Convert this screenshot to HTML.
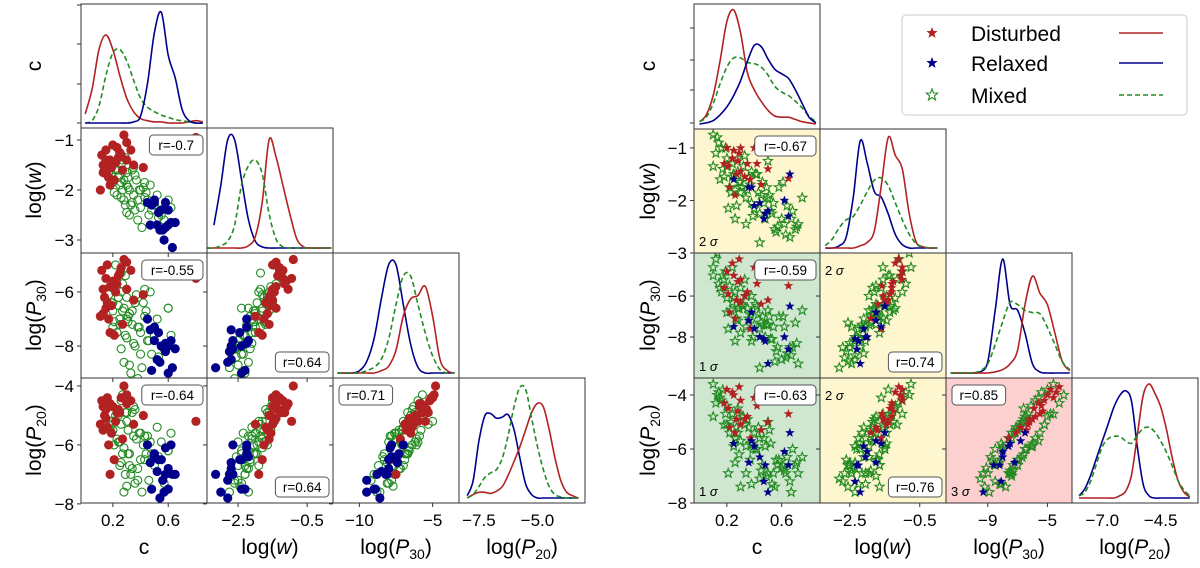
<!DOCTYPE html>
<html><head><meta charset="utf-8"><style>
html,body{margin:0;padding:0;background:#fff;}
svg{display:block;font-family:"Liberation Sans","DejaVu Sans",sans-serif;}
</style></head><body>
<svg id="fig" width="1200" height="568" viewBox="0 0 1200 568" xmlns="http://www.w3.org/2000/svg"></svg>
<script>
// ---------- DATA ----------
// variables order: c, log(w), log(P30), log(P20)
const leftDisturbed = [[0.12,-1.3,-5.2,-4.5],[0.15,-1.2,-5.5,-4.8],[0.18,-1.4,-5.8,-4.6],[0.14,-1.6,-6.2,-5.0],[0.16,-1.5,-5.0,-4.4],[0.2,-1.1,-5.6,-4.7],[0.22,-1.45,-6.0,-5.2],[0.13,-1.65,-6.8,-5.5],[0.25,-1.25,-5.3,-4.9],[0.28,-0.9,-4.8,-4.0],[0.19,-1.55,-6.5,-5.6],[0.17,-1.75,-7.0,-6.0],[0.11,-2.0,-6.9,-5.3],[0.3,-1.05,-5.9,-4.6],[0.24,-1.35,-5.4,-4.8],[0.21,-1.8,-7.6,-6.5],[0.35,-1.5,-6.3,-5.3],[0.15,-1.4,-6.6,-5.1],[0.27,-1.6,-7.2,-5.8],[0.18,-1.9,-7.5,-7.0],[0.33,-1.2,-5.2,-4.5],[0.42,-1.55,-6.1,-5.0],[0.23,-1.15,-5.7,-4.9],[0.8,-0.95,-5.5,-5.2],[0.16,-1.7,-6.4,-5.4],[0.13,-1.5,-5.9,-4.7],[0.3,-1.4,-4.9,-4.3],[0.26,-1.3,-5.1,-4.4]];
const leftRelaxed = [[0.45,-2.25,-7.0,-6.0],[0.5,-2.25,-7.3,-6.3],[0.55,-2.4,-8.0,-6.5],[0.52,-2.7,-8.5,-6.9],[0.58,-2.75,-8.2,-7.0],[0.6,-2.7,-8.0,-6.8],[0.62,-2.65,-7.8,-6.0],[0.53,-2.45,-7.5,-6.5],[0.47,-2.7,-7.4,-6.6],[0.56,-2.8,-9.5,-7.2],[0.57,-3.0,-9.5,-7.6],[0.63,-3.15,-8.8,-7.0],[0.5,-2.2,-7.8,-6.4],[0.65,-2.65,-8.1,-7.0],[0.48,-2.3,-8.9,-7.5],[0.54,-2.8,-8.6,-7.8],[0.6,-2.4,-9.0,-7.5],[0.58,-2.25,-7.9,-6.1]];
const leftMixed = [[0.2,-1.5,-6.4,-5.3],[0.22,-1.6,-6.0,-5.0],[0.25,-1.7,-7.2,-5.9],[0.18,-1.55,-5.8,-5.5],[0.28,-1.8,-6.6,-6.1],[0.3,-1.9,-7.0,-5.2],[0.26,-1.5,-6.0,-4.5],[0.32,-2.0,-6.8,-6.3],[0.35,-2.1,-7.9,-5.7],[0.24,-1.75,-6.2,-5.9],[0.2,-1.85,-7.3,-5.5],[0.38,-2.2,-7.3,-6.8],[0.4,-2.0,-7.5,-5.6],[0.34,-1.6,-6.7,-4.9],[0.29,-2.3,-7.6,-7.0],[0.27,-1.4,-5.7,-4.3],[0.31,-1.95,-6.9,-6.3],[0.23,-2.1,-7.5,-5.8],[0.36,-2.4,-8.0,-7.3],[0.45,-2.2,-7.8,-5.7],[0.42,-1.95,-6.4,-6.0],[0.48,-2.4,-8.3,-6.3],[0.5,-2.3,-7.6,-6.7],[0.55,-2.5,-8.0,-5.9],[0.6,-2.4,-6.6,-6.2],[0.28,-2.2,-8.6,-7.6],[0.33,-2.3,-9.0,-7.0],[0.41,-2.75,-8.8,-7.6],[0.26,-2.15,-8.1,-6.6],[0.19,-1.7,-6.4,-5.2],[0.22,-1.45,-5.0,-5.2],[0.3,-1.65,-6.2,-4.9],[0.37,-1.8,-6.1,-5.8],[0.39,-2.0,-7.3,-5.6],[0.44,-2.05,-6.7,-6.3],[0.46,-2.5,-7.8,-7.2],[0.52,-2.1,-7.0,-5.4],[0.57,-2.6,-8.1,-7.3],[0.62,-2.35,-7.6,-5.6],[0.25,-1.9,-7.0,-6.7],[0.21,-2.05,-7.1,-6.0],[0.32,-2.5,-8.7,-6.7],[0.43,-1.85,-5.9,-5.7],[0.35,-1.55,-6.3,-4.7],[0.29,-1.35,-5.4,-4.9],[0.17,-1.65,-6.1,-6.0],[0.24,-1.6,-6.5,-5.0],[0.27,-2.0,-6.7,-6.3],[0.31,-1.75,-7.1,-5.5],[0.34,-2.25,-7.2,-6.8],[0.4,-2.35,-8.3,-6.5],[0.47,-1.9,-6.0,-5.9],[0.53,-2.55,-8.4,-6.4],[0.6,-2.2,-6.6,-6.2],[0.38,-2.6,-9.2,-7.2],[0.3,-2.45,-7.7,-7.4],[0.2,-1.8,-6.7,-5.2],[0.26,-1.85,-5.3,-5.3],[0.36,-1.7,-6.4,-4.8],[0.43,-2.15,-6.9,-6.5]];
const rightDisturbed = [[0.2,-1.0,-4.8,-3.8],[0.25,-1.05,-5.0,-4.0],[0.3,-1.0,-5.2,-4.2],[0.18,-1.3,-5.6,-4.3],[0.4,-1.0,-4.6,-4.1],[0.35,-1.3,-5.8,-4.8],[0.27,-1.5,-6.2,-4.9],[0.22,-1.75,-6.8,-5.2],[0.26,-1.9,-7.1,-5.4],[0.45,-1.7,-6.4,-5.3],[0.5,-1.4,-6.2,-5.0],[0.65,-1.58,-5.5,-4.7],[0.3,-1.45,-6.3,-5.1],[0.24,-1.2,-4.4,-3.9],[0.37,-1.6,-7.6,-5.6],[0.28,-1.25,-5.3,-4.6],[0.33,-1.55,-6.0,-4.9],[0.21,-1.35,-5.9,-4.5],[0.42,-1.3,-5.4,-4.4],[0.29,-1.1,-4.2,-3.7]];
const rightRelaxed = [[0.38,-1.75,-6.8,-5.7],[0.4,-2.1,-7.6,-5.9],[0.44,-2.05,-8.0,-6.3],[0.48,-2.25,-8.2,-6.6],[0.47,-2.35,-8.1,-7.2],[0.62,-2.0,-8.0,-6.1],[0.66,-1.5,-6.5,-5.4],[0.65,-2.3,-8.6,-6.6],[0.25,-1.6,-7.5,-5.8],[0.36,-1.75,-7.2,-6.5],[0.5,-2.2,-9.3,-7.6]];
const rightMixed = [[0.1,-0.75,-4.6,-3.6],[0.12,-1.1,-4.2,-4.3],[0.14,-0.9,-5.4,-3.9],[0.1,-1.35,-5.0,-4.8],[0.16,-1.0,-5.8,-4.2],[0.18,-1.55,-5.2,-5.1],[0.2,-1.2,-6.1,-4.4],[0.22,-1.75,-5.5,-5.4],[0.24,-1.3,-6.3,-4.7],[0.26,-1.8,-5.8,-5.6],[0.28,-1.2,-6.6,-4.5],[0.3,-1.85,-5.6,-5.7],[0.32,-1.35,-6.5,-4.8],[0.34,-1.95,-6.0,-5.9],[0.36,-1.55,-7.1,-5.2],[0.38,-1.45,-6.0,-5.8],[0.4,-2.15,-7.4,-5.4],[0.42,-1.5,-6.5,-6.0],[0.44,-2.25,-7.6,-5.6],[0.46,-1.65,-7.0,-6.6],[0.48,-2.35,-8.0,-5.9],[0.5,-1.95,-7.4,-6.9],[0.52,-2.2,-8.1,-5.8],[0.54,-2.05,-7.5,-6.9],[0.56,-2.6,-8.7,-6.4],[0.58,-1.75,-7.0,-6.4],[0.6,-2.35,-9.1,-6.7],[0.62,-2.45,-7.5,-6.8],[0.64,-2.1,-8.8,-6.3],[0.66,-2.7,-8.5,-7.2],[0.68,-2.2,-8.5,-6.0],[0.7,-2.55,-7.3,-6.6],[0.72,-2.45,-9.3,-6.9],[0.75,-1.95,-6.7,-6.3],[0.15,-1.6,-5.6,-4.1],[0.19,-1.0,-4.8,-4.7],[0.23,-1.85,-6.7,-5.0],[0.25,-1.5,-6.1,-5.9],[0.27,-2.1,-7.1,-5.2],[0.29,-1.65,-6.6,-6.2],[0.31,-1.75,-6.4,-4.8],[0.33,-1.15,-5.2,-5.1],[0.35,-1.8,-6.6,-4.9],[0.37,-1.7,-6.9,-6.4],[0.39,-2.3,-8.0,-6.0],[0.41,-1.5,-6.4,-6.0],[0.43,-1.85,-6.9,-5.2],[0.45,-1.9,-7.3,-6.8],[0.47,-2.05,-7.4,-5.6],[0.49,-1.75,-7.4,-7.0],[0.51,-1.9,-7.0,-5.3],[0.53,-2.25,-8.1,-7.3],[0.57,-2.5,-8.5,-6.6],[0.61,-1.65,-7.0,-6.6],[0.63,-2.65,-9.0,-6.9],[0.67,-2.35,-8.9,-7.6],[0.71,-2.5,-8.3,-6.5],[0.21,-2.15,-7.6,-6.9],[0.26,-2.35,-8.2,-6.5],[0.3,-1.65,-7.8,-7.4],[0.55,-2.55,-9.2,-7.4],[0.44,-2.8,-9.5,-7.1],[0.38,-2.05,-8.2,-7.3],[0.17,-1.4,-5.0,-3.8],[0.13,-0.8,-3.9,-4.0],[0.2,-1.35,-6.8,-5.1],[0.24,-1.55,-4.6,-4.7],[0.28,-1.45,-7.2,-5.4],[0.34,-2.45,-7.5,-6.9],[0.5,-1.25,-6.7,-5.0]];

// KDE grids: [start, step] per variable
const kdeGridC = [0, 0.05];
const kdeGridW_L = [-3.4, 0.2];
const kdeGridW_R = [-3.2, 0.2];
const kdeGridP30 = [-11.5, 0.5];
const kdeGridP20 = [-8, 0.25];
// left KDE densities (normalised)
const kdeLeftC_red   = [0.08,0.3,0.65,0.78,0.65,0.42,0.22,0.1,0.04,0.02,0.01,0.01,0,0,0,0.01,0.02,0.01];
const kdeLeftC_green = [0,0.02,0.15,0.42,0.62,0.65,0.55,0.38,0.22,0.14,0.1,0.07,0.05,0.03,0.02,0.01,0,0];
const kdeLeftC_blue  = [0,0,0,0,0,0,0,0.01,0.06,0.35,0.8,0.98,0.6,0.4,0.12,0.02,0,0];
const kdeLeftW_blue  = [null,0.2,0.55,0.95,0.95,0.6,0.25,0.06,0.01,0,0,0,0,0,0,0,0,0,0];
const kdeLeftW_red   = [0,0,0,0,0,0,0.02,0.1,0.4,0.95,0.8,0.55,0.3,0.08,0.01,0,0,0,0];
const kdeLeftW_green = [0,0,0.02,0.06,0.2,0.55,0.72,0.77,0.65,0.3,0.08,0.01,0,0,0,0,0,0,0];
const kdeLeftP30_blue  = [0,0,0,0.02,0.1,0.3,0.65,0.95,0.95,0.6,0.25,0.05,0,0,0,0,0];
const kdeLeftP30_green = [0,0,0,0,0.02,0.05,0.12,0.3,0.6,0.85,0.85,0.6,0.35,0.15,0.03,0,0];
const kdeLeftP30_red   = [0,0,0,0,0,0,0.02,0.06,0.2,0.5,0.65,0.68,0.76,0.5,0.12,0.02,0];
const kdeLeftP20_blue  = [0.02,0.15,0.5,0.72,0.74,0.7,0.71,0.73,0.6,0.35,0.12,0.03,0,0,0,0,0,0,0,0];
const kdeLeftP20_green = [0,0.03,0.1,0.18,0.22,0.25,0.35,0.55,0.8,0.97,0.95,0.7,0.45,0.25,0.1,0.03,0.01,0,0,0];
const kdeLeftP20_red   = [0,0.03,0.05,0.05,0.04,0.06,0.1,0.2,0.32,0.45,0.6,0.75,0.83,0.8,0.6,0.35,0.15,0.05,0.02,0];
// right KDE densities
const kdeRightC_red   = [0.02,0.08,0.25,0.55,0.9,1.0,0.8,0.45,0.3,0.2,0.12,0.07,0.06,0.06,0.04,0.02,0.01,0];
const kdeRightC_blue  = [0,0.01,0.03,0.08,0.15,0.25,0.38,0.55,0.69,0.68,0.57,0.48,0.44,0.4,0.3,0.18,0.06,0.01];
const kdeRightC_green = [0.02,0.06,0.18,0.35,0.5,0.58,0.58,0.54,0.53,0.5,0.43,0.33,0.28,0.25,0.2,0.14,0.07,0.02];
const kdeRightW_blue  = [0,0,0.02,0.1,0.45,0.95,0.75,0.5,0.45,0.3,0.12,0.03,0,0,0,0,0];
const kdeRightW_red   = [0,0,0,0,0,0.02,0.05,0.15,0.55,0.98,0.82,0.7,0.3,0.05,0.01,0,0];
const kdeRightW_green = [0.02,0.08,0.18,0.25,0.28,0.38,0.5,0.6,0.62,0.55,0.4,0.25,0.12,0.04,0.01,0,0];
const kdeRightP30_blue  = [0,0,0,0,0.01,0.1,0.55,1.0,0.6,0.55,0.35,0.08,0.01,0,0,0,0];
const kdeRightP30_red   = [0,0,0,0,0,0,0.01,0.03,0.08,0.2,0.6,0.85,0.7,0.6,0.35,0.1,0.02];
const kdeRightP30_green = [0,0,0,0,0.02,0.08,0.25,0.45,0.62,0.6,0.55,0.53,0.52,0.4,0.25,0.1,0.03];
const kdeRightP20_blue  = [0.02,0.08,0.2,0.35,0.5,0.65,0.8,0.9,0.94,0.85,0.45,0.12,0.02,0,0,0,0,0,0,0];
const kdeRightP20_red   = [0,0,0,0,0,0,0,0.02,0.06,0.2,0.55,0.9,1.0,0.92,0.8,0.6,0.35,0.15,0.05,0.01];
const kdeRightP20_green = [0.02,0.05,0.15,0.3,0.45,0.52,0.54,0.54,0.5,0.48,0.55,0.61,0.62,0.58,0.5,0.4,0.28,0.15,0.07,0.02];

const corrLeft  = {"1,0":"r=-0.7","2,0":"r=-0.55","2,1":"r=0.64","3,0":"r=-0.64","3,1":"r=0.64","3,2":"r=0.71"};
const corrRight = {"1,0":"r=-0.67","2,0":"r=-0.59","2,1":"r=0.74","3,0":"r=-0.63","3,1":"r=0.76","3,2":"r=0.85"};
const sigmaRight = {"1,0":"2","2,0":"1","2,1":"2","3,0":"1","3,1":"2","3,2":"3"};
const xTicksC = [0.2, 0.6], xTicksW = [-2.5, -0.5];
const xTicksP30L = [-10, -5], xTicksP20L = [-7.5, -5.0];
const xTicksP30R = [-9, -5], xTicksP20R = [-7.0, -4.5];
const yTicksW = [-1, -2, -3], yTicksP30 = [-6, -8], yTicksP20 = [-4, -6, -8];
const varLabels = ["c","log(<tspan font-style='italic'>w</tspan>)","log(<tspan font-style='italic'>P</tspan><tspan font-size='14' dy='5'>30</tspan><tspan dy='-5'>)</tspan>","log(<tspan font-style='italic'>P</tspan><tspan font-size='14' dy='5'>20</tspan><tspan dy='-5'>)</tspan>"];

// ---------- DRAWING ----------
const NS = "http://www.w3.org/2000/svg";
const svg = document.getElementById("fig");
const RED = "#b22222", BLUE = "#00008b", GREEN = "#228b22";
function el(tag, attrs, parent) {
  const e = document.createElementNS(NS, tag);
  for (const k in attrs) e.setAttribute(k, attrs[k]);
  (parent || svg).appendChild(e);
  return e;
}
function lin(d0, d1, p0, p1) { return v => p0 + (v - d0) / (d1 - d0) * (p1 - p0); }
function smoothPath(pts) {
  let d = "M" + pts[0][0].toFixed(1) + "," + pts[0][1].toFixed(1);
  for (let i = 0; i < pts.length - 1; i++) {
    const p0 = pts[Math.max(0, i - 1)], p1 = pts[i], p2 = pts[i + 1], p3 = pts[Math.min(pts.length - 1, i + 2)];
    const c1x = p1[0] + (p2[0] - p0[0]) / 6, c1y = p1[1] + (p2[1] - p0[1]) / 6;
    const c2x = p2[0] - (p3[0] - p1[0]) / 6, c2y = p2[1] - (p3[1] - p1[1]) / 6;
    d += "C" + c1x.toFixed(1) + "," + c1y.toFixed(1) + " " + c2x.toFixed(1) + "," + c2y.toFixed(1) + " " + p2[0].toFixed(1) + "," + p2[1].toFixed(1);
  }
  return d;
}
function starPts(cx, cy, r) {
  const p = [];
  for (let i = 0; i < 10; i++) {
    const a = -Math.PI / 2 + i * Math.PI / 5, rr = i % 2 ? r * 0.42 : r;
    p.push((cx + rr * Math.cos(a)).toFixed(1) + "," + (cy + rr * Math.sin(a)).toFixed(1));
  }
  return p.join(" ");
}

function drawCorner(cfg) {
  const g = el("g", {});
  
  
  const n = 4;
  for (let r = 0; r < n; r++) {
    for (let c = 0; c <= r; c++) {
      const x0 = cfg.cols[c].x, x1 = x0 + 126;
      const y0 = cfg.rows[r].y, y1 = cfg.rows[r + 1] ? cfg.rows[r + 1].y : cfg.bottom;
      const pg = el("g", {}, g);
      const fx = lin(cfg.cols[c].min, cfg.cols[c].max, x0, x1);
      if (r === c) {
        
        
        const fy = lin(0, 1, y1 - 5, y0 + 6);
        const k = cfg.kde[r];
        k.curves.forEach(curve => {
          const pts = [];
          curve.vals.forEach((v, i) => { if (v !== null) pts.push([fx(k.grid[0] + i * k.grid[1]), fy(v)]); });
          const p = el("path", {d: smoothPath(pts), fill: "none", stroke: curve.color, "stroke-width": 1.6, "stroke-dasharray": curve.dash || "none"}, pg);
          
          
        });
        if (r === 0) cfg.diagTicks.forEach(t => el("line", {x1: x0 - 4, x2: x0, y1: t, y2: t, stroke: "#333", "stroke-width": 1}, pg));
      } else {
        
        
        const key = r + "," + c;
        if (cfg.bg && cfg.bg[key]) el("rect", {x: x0, y: y0, width: 126, height: y1 - y0, fill: cfg.bg[key]}, pg);
        const fy = lin(cfg.rows[r].top, cfg.rows[r].bot, y0, y1);
        const clip = el("clipPath", {id: cfg.name + "clip" + r + c}, pg);
        el("rect", {x: x0, y: y0, width: 126, height: y1 - y0}, clip);
        const mg = el("g", {"clip-path": "url(#" + cfg.name + "clip" + r + c + ")"}, pg);
        cfg.groups.forEach(gr => {
          gr.data.forEach(d => {
            const px = fx(d[c]), py = fy(d[r]);
            let m;
            if (cfg.marker === "circle") {
              m = gr.hollow ? el("circle", {cx: px, cy: py, r: 4, fill: "none", stroke: gr.color, "stroke-width": 1.1}, mg)
                            : el("circle", {cx: px, cy: py, r: 4.6, fill: gr.color}, mg);
            } else {
              m = gr.hollow ? el("polygon", {points: starPts(px, py, 4.8), fill: "none", stroke: gr.color, "stroke-width": 1.1}, mg)
                            : el("polygon", {points: starPts(px, py, 5), fill: gr.color}, mg);
            }
            
            
          });
        });
        cfg.rows[r].ticks.forEach(t => el("line", {x1: x0 - 4, x2: x0, y1: fy(t), y2: fy(t), stroke: "#333"}, pg));
        cfg.cols[c].ticks.forEach(t => el("line", {x1: fx(t), x2: fx(t), y1: y1, y2: y1 + 4, stroke: "#333"}, pg));
        const txt = cfg.corr[key];
        const bw = txt.length * 7.6 + 8;
        const tl = (r === 3 && c === 2);
        const br = (c === 1);
        const bx = tl ? x0 + 6 : x1 - bw - 4;
        const by = br ? y1 - 26 : y0 + 7;
        const box = el("g", {}, pg);
        
        
        el("rect", {x: bx, y: by, width: bw, height: 20, rx: 4, fill: "#fff", stroke: "#555", "stroke-width": 1}, box);
        el("text", {x: bx + bw / 2, y: by + 15, "text-anchor": "middle", "font-size": 13.5, fill: "#000"}, box).textContent = txt;
        if (cfg.sigma) {
          const s = el("text", {x: x0 + 5, y: (c === 1 ? y0 + 22 : y1 - 7), "font-size": 13, fill: "#000"}, pg);
          s.innerHTML = cfg.sigma[key] + " <tspan font-style='italic'>σ</tspan>";
          
          
        }
      }
      el("rect", {x: x0, y: y0, width: 126, height: y1 - y0, fill: "none", stroke: "#333", "stroke-width": 1}, pg);
      if (c === 0 && r > 0) {
        const fy = lin(cfg.rows[r].top, cfg.rows[r].bot, y0, y1);
        cfg.rows[r].ticks.forEach(t => {
          const tt = el("text", {x: x0 - 7, y: fy(t) + 6, "text-anchor": "end", "font-size": 17}, g);
          tt.textContent = String(t).replace("-", "−");
        });
      }
      if (r === 3) {
        cfg.cols[c].ticks.forEach(t => {
          const tt = el("text", {x: fx(t), y: cfg.bottom + 23, "text-anchor": "middle", "font-size": 17}, g);
          tt.textContent = (Number.isInteger(t) && cfg.cols[c].dec ? t.toFixed(1) : String(t)).replace("-", "−");
        });
      }
    }
  }
  for (let i = 0; i < 4; i++) {
    const yl = el("text", {x: 0, y: 0, "text-anchor": "middle", "font-size": 21, transform: "translate(" + cfg.ylabX + "," + (cfg.rows[i].y + 62) + ") rotate(-90)"}, g);
    yl.innerHTML = varLabels[i];
    
    
    const xl = el("text", {x: cfg.cols[i].x + 63, y: cfg.bottom + 51, "text-anchor": "middle", "font-size": 21}, g);
    xl.innerHTML = varLabels[i];
    
    
  }
}

drawCorner({
  name: "left-corner-plot", marker: "circle", bottom: 503, ylabX: 41,
  cols: [{x:81,min:-0.03,max:0.88,ticks:xTicksC},{x:207,min:-3.4,max:0.25,ticks:xTicksW},{x:333,min:-11.8,max:-3.2,ticks:xTicksP30L},{x:459,min:-8.35,max:-2.97,ticks:xTicksP20L,dec:true}],
  rows: [{y:4},{y:128,top:-0.76,bot:-3.26,ticks:yTicksW},{y:253,top:-4.56,bot:-9.18,ticks:yTicksP30},{y:378,top:-3.73,bot:-7.97,ticks:yTicksP20}],
  diagTicks: [5,44,84,123],
  groups: [{data:leftMixed,color:GREEN,hollow:true,label:"mixed"},{data:leftDisturbed,color:RED,label:"disturbed"},{data:leftRelaxed,color:BLUE,label:"relaxed"}],
  corr: corrLeft,
  kde: [
    {grid:kdeGridC, curves:[{vals:kdeLeftC_red,color:RED,label:"disturbed"},{vals:kdeLeftC_green,color:GREEN,dash:"5,3",label:"mixed"},{vals:kdeLeftC_blue,color:BLUE,label:"relaxed"}]},
    {grid:kdeGridW_L, curves:[{vals:kdeLeftW_blue,color:BLUE,label:"relaxed"},{vals:kdeLeftW_red,color:RED,label:"disturbed"},{vals:kdeLeftW_green,color:GREEN,dash:"5,3",label:"mixed"}]},
    {grid:kdeGridP30, curves:[{vals:kdeLeftP30_blue,color:BLUE,label:"relaxed"},{vals:kdeLeftP30_red,color:RED,label:"disturbed"},{vals:kdeLeftP30_green,color:GREEN,dash:"5,3",label:"mixed"}]},
    {grid:kdeGridP20, curves:[{vals:kdeLeftP20_blue,color:BLUE,label:"relaxed"},{vals:kdeLeftP20_red,color:RED,label:"disturbed"},{vals:kdeLeftP20_green,color:GREEN,dash:"5,3",label:"mixed"}]}
  ]
});

drawCorner({
  name: "right-corner-plot", marker: "star", bottom: 503, ylabX: 655,
  cols: [{x:694,min:-0.04,max:0.88,ticks:xTicksC},{x:820,min:-3.35,max:0.25,ticks:xTicksW},{x:946,min:-11.8,max:-3.35,ticks:xTicksP30R},{x:1072,min:-8.3,max:-2.9,ticks:xTicksP20R,dec:true}],
  rows: [{y:4},{y:129,top:-0.64,bot:-3.0,ticks:yTicksW},{y:253,top:-3.9,bot:-10,ticks:yTicksP30},{y:378,top:-3.37,bot:-8.0,ticks:yTicksP20}],
  diagTicks: [28,60,90,123],
  groups: [{data:rightMixed,color:GREEN,hollow:true,label:"mixed"},{data:rightDisturbed,color:RED,label:"disturbed"},{data:rightRelaxed,color:BLUE,label:"relaxed"}],
  corr: corrRight, sigma: sigmaRight,
  bg: {"1,0":"#fdf6cf","2,0":"#cfe6cf","3,0":"#cfe6cf","2,1":"#fdf6cf","3,1":"#fdf6cf","3,2":"#fdd0d0"},
  kde: [
    {grid:kdeGridC, curves:[{vals:kdeRightC_red,color:RED,label:"disturbed"},{vals:kdeRightC_green,color:GREEN,dash:"5,3",label:"mixed"},{vals:kdeRightC_blue,color:BLUE,label:"relaxed"}]},
    {grid:kdeGridW_R, curves:[{vals:kdeRightW_blue,color:BLUE,label:"relaxed"},{vals:kdeRightW_red,color:RED,label:"disturbed"},{vals:kdeRightW_green,color:GREEN,dash:"5,3",label:"mixed"}]},
    {grid:kdeGridP30, curves:[{vals:kdeRightP30_blue,color:BLUE,label:"relaxed"},{vals:kdeRightP30_red,color:RED,label:"disturbed"},{vals:kdeRightP30_green,color:GREEN,dash:"5,3",label:"mixed"}]},
    {grid:kdeGridP20, curves:[{vals:kdeRightP20_blue,color:BLUE,label:"relaxed"},{vals:kdeRightP20_red,color:RED,label:"disturbed"},{vals:kdeRightP20_green,color:GREEN,dash:"5,3",label:"mixed"}]}
  ]
});

const lg = el("g", {});


el("rect", {x: 902, y: 15, width: 285, height: 100, rx: 4, fill: "#fff", stroke: "#ccc", "stroke-width": 1}, lg);
[["Disturbed", RED, false, null, 33], ["Relaxed", BLUE, false, null, 63], ["Mixed", GREEN, true, "5,3", 95]].forEach(e => {
  const it = el("g", {}, lg);
  
  
  el("polygon", {points: starPts(932, e[4], 6), fill: e[2] ? "none" : e[1], stroke: e[1], "stroke-width": e[2] ? 1.1 : 0}, it);
  el("text", {x: 971, y: e[4] + 8, "font-size": 21}, it).textContent = e[0];
  el("line", {x1: 1119, x2: 1163, y1: e[4], y2: e[4], stroke: e[1], "stroke-width": 1.6, "stroke-dasharray": e[3] || "none"}, it);
});
</script>
</body></html>
